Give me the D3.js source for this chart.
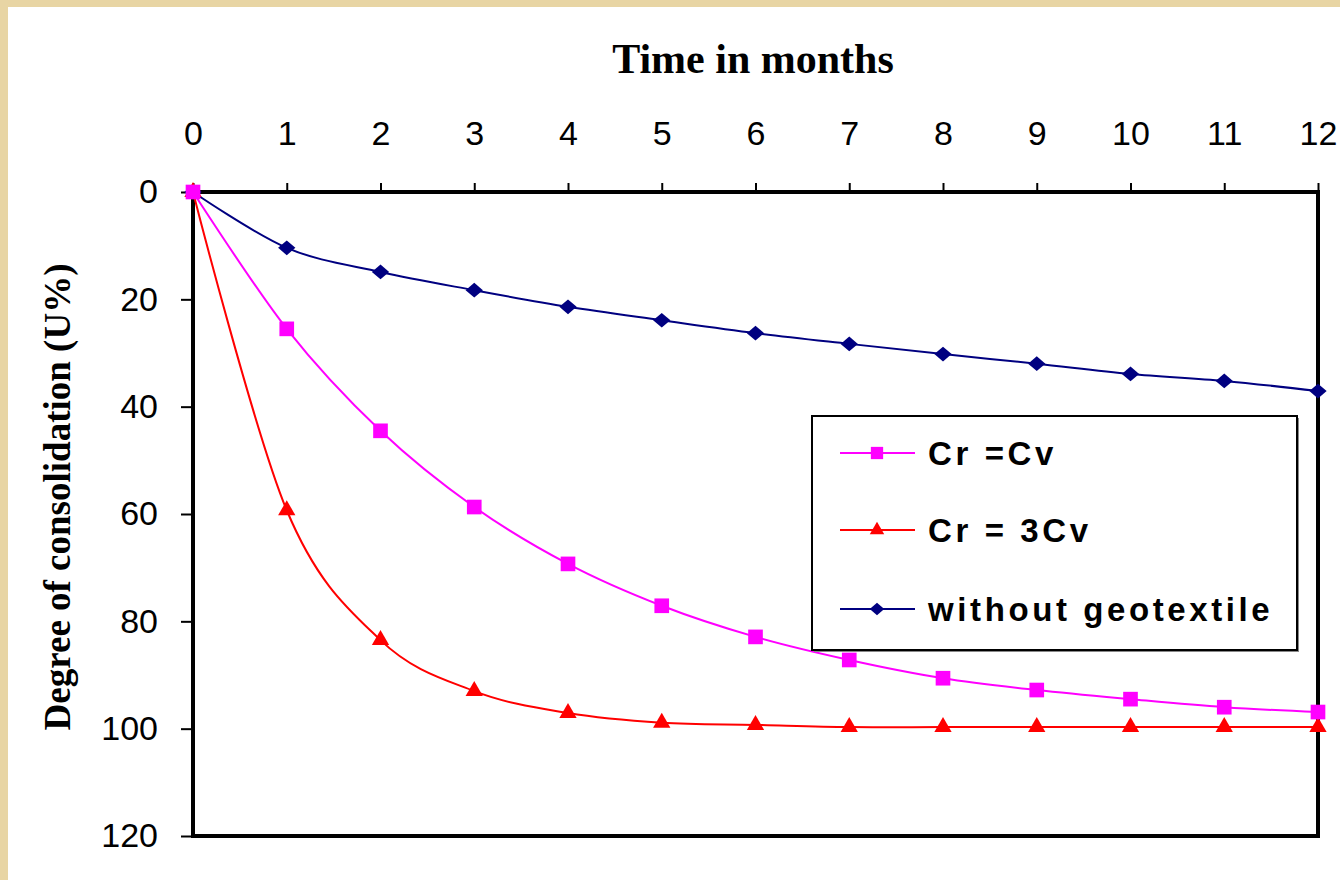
<!DOCTYPE html>
<html>
<head>
<meta charset="utf-8">
<script src="https://cdn.jsdelivr.net/npm/d3@7"></script>
<style>
  html, body { margin: 0; padding: 0; background: #e8d5a4; }
  svg { display: block; }
</style>
</head>
<body>
<div id="chart"></div>
<script>
// months on the top axis
const months = [0, 1, 2, 3, 4, 5, 6, 7, 8, 9, 10, 11, 12];
const yTicks = [0, 20, 40, 60, 80, 100, 120];

// degree of consolidation U%
const crEqCv   = [0, 25.5, 44.5, 58.7, 69.3, 77.1, 82.9, 87.2, 90.6, 92.8, 94.5, 96.0, 96.9];
const crEq3Cv  = [0, 59.3, 83.5, 93.0, 97.1, 98.9, 99.3, 99.7, 99.7, 99.7, 99.7, 99.7, 99.7];
const noGeotex = [0, 10.4, 14.9, 18.3, 21.4, 23.9, 26.3, 28.3, 30.2, 32.0, 33.9, 35.2, 37.1];

const seriesNames = ['Cr =Cv', 'Cr = 3Cv', 'without geotextile'];

const W = 1340, H = 880;
const M = { top: 192, right: 22, bottom: 44, left: 193 };
const iW = W - M.left - M.right;
const iH = H - M.top - M.bottom;

const svg = d3.select('#chart').append('svg')
  .attr('width', W).attr('height', H);

// white panel on the parchment border
svg.append('rect').attr('x', 8).attr('y', 7)
  .attr('width', W - 8).attr('height', H - 7).attr('fill', '#ffffff');

const g = svg.append('g').attr('transform', `translate(${M.left},${M.top})`);

const x = d3.scaleLinear().domain([0, 12]).range([0, iW]);
const y = d3.scaleLinear().domain([0, 120]).range([0, iH]);

const sansFont  = '"Liberation Sans", Arial, sans-serif';
const serifFont = '"Liberation Serif", "Times New Roman", serif';

// axes
g.append('g')
  .call(d3.axisTop(x).tickValues(months).tickSize(9).tickPadding(38).tickFormat(d3.format('d')))
  .call(ax => ax.select('.domain').remove())
  .call(ax => ax.selectAll('line').attr('stroke', '#000').attr('stroke-width', 2))
  .call(ax => ax.selectAll('text').attr('fill', '#000').attr('font-size', 34)
    .attr('font-family', sansFont));

g.append('g')
  .call(d3.axisLeft(y).tickValues(yTicks).tickSize(12).tickPadding(23).tickFormat(d3.format('d')))
  .call(ax => ax.select('.domain').remove())
  .call(ax => ax.selectAll('line').attr('stroke', '#000').attr('stroke-width', 2))
  .call(ax => ax.selectAll('text').attr('fill', '#000').attr('font-size', 34)
    .attr('font-family', sansFont));

// plot frame
g.append('rect').attr('width', iW).attr('height', iH)
  .attr('fill', 'none').attr('stroke', '#000').attr('stroke-width', 4);

// diamond = square turned 45 degrees (wider than d3's diamond)
const diamond = {
  draw(ctx, size) {
    const r = Math.sqrt(size / 2);
    ctx.moveTo(0, -r * 0.85); ctx.lineTo(r, 0); ctx.lineTo(0, r * 0.85); ctx.lineTo(-r, 0); ctx.closePath();
  }
};

const series = [
  { name: seriesNames[0], vals: crEqCv,   color: '#ff00ff', marker: d3.symbolSquare,   size: 215 },
  { name: seriesNames[1], vals: crEq3Cv,  color: '#ff0000', marker: d3.symbolTriangle, size: 130 },
  { name: seriesNames[2], vals: noGeotex, color: '#000080', marker: diamond,           size: 150 },
];

const line = d3.line()
  .x((d, i) => x(months[i]))
  .y(d => y(d))
  .curve(d3.curveCatmullRom.alpha(0));

// draw last series first so magenta sits on top like the original
[...series].reverse().forEach(s => {
  g.append('path')
    .attr('d', line(s.vals))
    .attr('fill', 'none').attr('stroke', s.color).attr('stroke-width', 2);
  g.selectAll(null).data(s.vals).join('path')
    .attr('transform', (d, i) => `translate(${x(months[i])},${y(d)})`)
    .attr('d', d3.symbol(s.marker, s.size))
    .attr('fill', s.color);
});

// legend
const lg = svg.append('g').attr('transform', 'translate(812,416)');
lg.append('rect').attr('x', 2).attr('y', 2).attr('width', 485).attr('height', 234)
  .attr('fill', '#888');
lg.append('rect').attr('width', 485).attr('height', 234)
  .attr('fill', '#fff').attr('stroke', '#000').attr('stroke-width', 2);

const legendRows = [37, 114, 193];
series.forEach((s, i) => {
  const ly = legendRows[i];
  lg.append('line').attr('x1', 28).attr('x2', 103).attr('y1', ly).attr('y2', ly)
    .attr('stroke', s.color).attr('stroke-width', 2);
  lg.append('path').attr('transform', `translate(65,${ly})`)
    .attr('d', d3.symbol(s.marker, s.size * 0.7)).attr('fill', s.color);
  lg.append('text').attr('x', 116).attr('y', ly + 12)
    .attr('font-family', sansFont).attr('font-weight', 'bold')
    .attr('font-size', 33).attr('letter-spacing', 3.6).attr('fill', '#000')
    .text(s.name);
});

// titles
svg.append('text')
  .attr('x', 753).attr('y', 73)
  .attr('text-anchor', 'middle')
  .attr('font-family', serifFont)
  .attr('font-weight', 'bold').attr('font-size', 42)
  .text('Time in months');

svg.append('text')
  .attr('transform', 'translate(70,497) rotate(-90)')
  .attr('text-anchor', 'middle')
  .attr('font-family', serifFont)
  .attr('font-weight', 'bold').attr('font-size', 37)
  .text('Degree of consolidation (U%)');
</script>
</body>
</html>
